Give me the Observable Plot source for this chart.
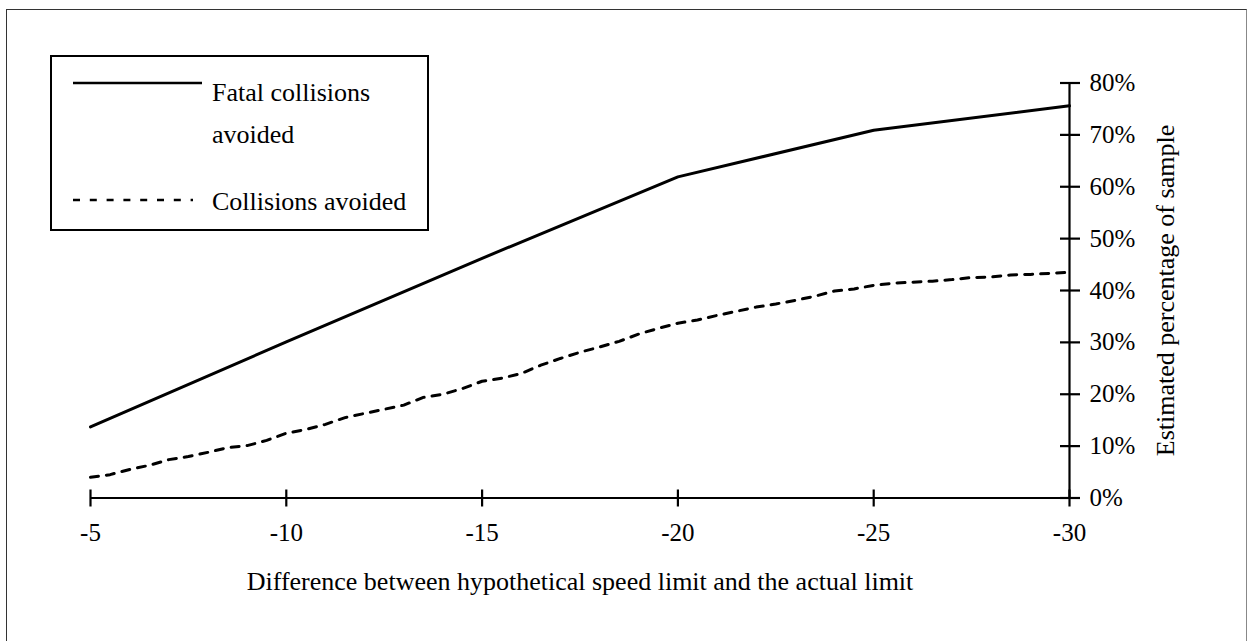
<!DOCTYPE html>
<html><head><meta charset="utf-8">
<script src="https://cdn.jsdelivr.net/npm/d3@7"></script>
<script src="https://cdn.jsdelivr.net/npm/@observablehq/plot@0.6"></script>
<style>
html,body{margin:0;padding:0;background:#fff;overflow:hidden}
#wrap{position:relative;width:1250px;height:641px;overflow:hidden;font-family:"Liberation Serif","Times New Roman",serif;background:#fff}
#frame{position:absolute;left:6px;top:9px;width:1241px;height:700px;border:1.5px solid #333;border-right-color:#888;box-sizing:border-box}
#chart{position:absolute;left:0;top:0}
#legend{position:absolute;left:50px;top:55px;width:379px;height:176px;border:2.5px solid #000;box-sizing:border-box;background:#fff}
#sw{position:absolute;left:0;top:0}
.lt{position:absolute;font-size:26px;line-height:26px;color:#000;white-space:nowrap}
</style>
</head><body>
<div id="wrap">
  <div id="frame"></div>
  <div id="chart"></div>
  <div id="legend"></div>
  <svg id="sw" width="1250" height="641"></svg>
  <div class="lt" id="l1" style="left:212px;top:80px">Fatal collisions</div>
  <div class="lt" id="l2" style="left:212px;top:122px">avoided</div>
  <div class="lt" id="l3" style="left:212px;top:189px">Collisions avoided</div>
</div>
<script>
// Data (x = difference between hypothetical speed limit and actual limit; y = % of sample)
const fatalDiff = [-5, -10, -15, -20, -25, -30];
const fatalPct  = [13.7, 30.1, 46.2, 61.9, 70.9, 75.6];

const collDiff = [-5,-5.5,-6,-6.5,-7,-7.5,-8,-8.5,-9,-9.5,-10,-10.5,-11,-11.5,-12,-12.5,-13,-13.5,-14,-14.5,-15,-15.5,-16,-16.5,-17,-17.5,-18,-18.5,-19,-19.5,-20,-20.5,-21,-21.5,-22,-22.5,-23,-23.5,-24,-24.5,-25,-25.5,-26,-26.5,-27,-27.5,-28,-28.5,-29,-29.5,-30];
const collPct  = [4.0,4.5,5.5,6.3,7.4,8.0,8.8,9.7,10.1,11.1,12.5,13.2,14.2,15.5,16.3,17.1,17.9,19.4,20.0,21.1,22.5,23.1,24.0,25.6,26.9,28.1,29.1,30.2,31.6,32.7,33.7,34.3,35.2,36.0,36.8,37.4,38.1,38.9,39.9,40.3,41.0,41.4,41.6,41.8,42.1,42.5,42.6,43.0,43.1,43.3,43.5];

const xTicks = [-5, -10, -15, -20, -25, -30];
const yTicks = [0, 10, 20, 30, 40, 50, 60, 70, 80];
const xTitle = "Difference between hypothetical speed limit and the actual limit";
const yTitle = "Estimated percentage of sample";
const seriesNames = ["Fatal collisions avoided", "Collisions avoided"];

const fatal = fatalDiff.map((d, i) => ({diff: d, pct: fatalPct[i]}));
const coll = collDiff.map((d, i) => ({diff: d, pct: collPct[i]}));

const chart = Plot.plot({
  width: 1250,
  height: 641,
  marginLeft: 90,
  marginRight: 181,
  marginTop: 82.5,
  marginBottom: 143.5,
  style: {fontFamily: "'Liberation Serif','Times New Roman',serif", fontSize: "25px", background: "transparent", color: "#000"},
  x: {domain: [-5, -30], label: null},
  y: {domain: [0, 80], label: null},
  marks: [
    Plot.axisX({ticks: xTicks, tickSize: 0, tickPadding: 25, tickFormat: d => String(d), fontSize: 25, label: null}),
    Plot.axisY({anchor: "right", ticks: yTicks, tickSize: 0, tickPadding: 20, tickFormat: d => d + "%", fontSize: 25, label: null}),
    Plot.ruleY([0], {stroke: "#000", strokeWidth: 2.2}),
    Plot.ruleX([-30], {y1: 0, y2: 80, stroke: "#000", strokeWidth: 2.2}),
    Plot.ruleX(xTicks, {x: d => d, y1: 0, y2: 0, insetTop: -8, insetBottom: -9, stroke: "#000", strokeWidth: 2.2}),
    Plot.ruleY(yTicks, {y: d => d, x1: -30, x2: -30, insetLeft: -9, insetRight: -11, stroke: "#000", strokeWidth: 2.2}),
    Plot.line(coll, {x: "diff", y: "pct", stroke: "#000", strokeWidth: 3, strokeDasharray: "8,8"}),
    Plot.line(fatal, {x: "diff", y: "pct", stroke: "#000", strokeWidth: 3}),
    Plot.text([xTitle], {frameAnchor: "bottom", dy: 84, lineAnchor: "middle", textAnchor: "middle", fontSize: 26, fill: "#000"}),
    Plot.text([yTitle], {frameAnchor: "right", dx: 96, rotate: -90, textAnchor: "middle", lineAnchor: "middle", fontSize: 26, fill: "#000"})
  ]
});
document.getElementById("chart").appendChild(chart);

// legend swatches
const sw = d3.select("#sw");
sw.append("line").attr("x1", 73).attr("x2", 202).attr("y1", 83).attr("y2", 83)
  .attr("stroke", "#000").attr("stroke-width", 2.5);
sw.append("line").attr("x1", 73).attr("x2", 193).attr("y1", 200).attr("y2", 200)
  .attr("stroke", "#000").attr("stroke-width", 2.5).attr("stroke-dasharray", "7,9.8");
</script>
</body></html>
